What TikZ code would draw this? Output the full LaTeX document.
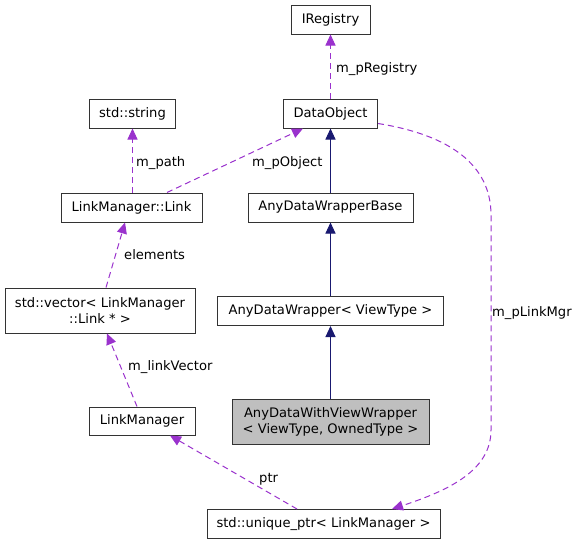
\documentclass[tikz,border=0pt]{standalone}
\usepackage{fontspec}
\setmainfont{DejaVu Sans}
\usepackage{xcolor}
\usetikzlibrary{arrows.meta,positioning}
\definecolor{edgepurple}{HTML}{9A32CD}
\definecolor{inhblue}{HTML}{191970}
\definecolor{boxgray}{HTML}{BFBFBF}
\definecolor{boxline}{HTML}{333333}

\begin{document}
\begin{tikzpicture}[x=1pt,y=-1pt,
        cls/.style={draw=boxline, line width=1pt, fill=white, inner sep=0pt, minimum height=29pt, align=center, font=\fontsize{13.1}{16}\selectfont},
        lbl/.style={inner sep=0pt, anchor=base west, font=\fontsize{13.1}{16}\selectfont},
        usedge/.style={edgepurple, line width=1pt, dash pattern=on 6pt off 4pt, -{Triangle[length=11pt,width=10pt]}},
        inhedge/.style={inhblue, line width=1pt, -{Triangle[length=11pt,width=10pt]}}]
                \useasboundingbox (0,0) rectangle (580,544);
                \node[cls, minimum width=79pt] (reg) at (330.5,19.5) {IRegistry};
                \node[cls, minimum width=86pt] (str) at (132.5,113.5) {std::string};
                \node[cls, minimum width=94pt] (dobj) at (330.5,113.5) {DataObject};
                \node[cls, minimum width=141pt] (lnk) at (131.5,207.5) {LinkManager::Link};
                \node[cls, minimum width=165pt] (adwb) at (330.5,207.5) {AnyDataWrapperBase};
                \node[cls, minimum width=190pt, minimum height=45pt] (vec) at (100,310.5) {std::vector< LinkManager\\::Link * >};
                \node[cls, minimum width=226pt] (adw) at (330.5,311) {AnyDataWrapper< ViewType >};
                \node[cls, minimum width=106pt, minimum height=28pt] (lm) at (142,421) {LinkManager};
                \node[cls, fill=boxgray, minimum width=197pt, minimum height=45pt] (adwv) at (330.5,421.5) {AnyDataWithViewWrapper\\< ViewType, OwnedType >};
                \node[cls, minimum width=233pt] (uptr) at (323.5,524) {std::unique\_ptr< LinkManager >};
                \draw[usedge] (dobj.north) -- (reg.south);
                \draw[usedge] (str.south |- lnk.north) -- (str.south);
                \draw[usedge] ([xshift=35.5pt]lnk.north) -- ([xshift=-27.5pt]dobj.south);
                \draw[usedge] ([xshift=6pt]vec.north) -- ([xshift=-6.5pt]lnk.south);
                \draw[usedge] ([xshift=-5pt]lm.north) -- ([xshift=7pt]vec.south);
                \draw[usedge] ([xshift=-26.5pt]uptr.north) -- ([xshift=28pt]lm.south);
                \draw[usedge] ([yshift=5pt]dobj.south east) .. controls (450,135) and (491,165) .. (491,215) -- (491,430) .. controls (491,470) and (450,490) .. ([xshift=68.5pt]uptr.north);
                \draw[inhedge] (adwb.north) -- (dobj.south);
                \draw[inhedge] (adw.north) -- (adwb.south);
                \draw[inhedge] (adwv.north) -- (adw.south);
                \node[lbl] (lreg) at (336,72) {m\_pRegistry};
                \node[lbl] (lpath) at (136,166) {m\_path};
                \node[lbl] (lobj) at (252,166) {m\_pObject};
                \node[lbl] (lelem) at (124,259) {elements};
                \node[lbl] (lvec) at (128,370) {m\_linkVector};
                \node[lbl] (lptr) at (259,482) {ptr};
                \node[lbl] (lmgr) at (492,316) {m\_pLinkMgr};
            \end{tikzpicture}
\end{document}
